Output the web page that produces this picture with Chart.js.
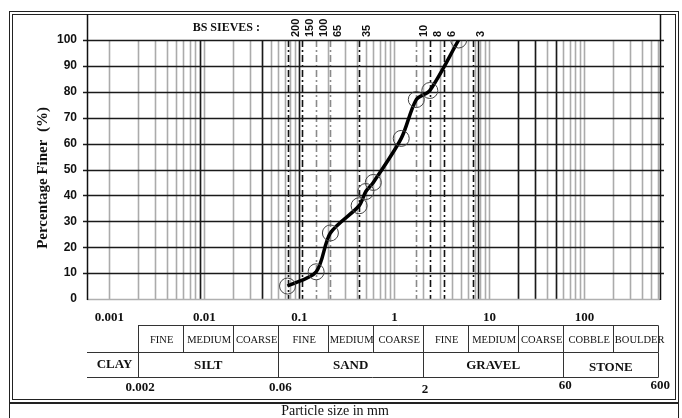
<!DOCTYPE html>
<html>
<head>
<meta charset="utf-8">
<script src="https://cdn.jsdelivr.net/npm/chart.js@4"></script>
<style>
  html, body { margin: 0; padding: 0; background: #fff; }
  #wrap { width: 682px; height: 418px; position: relative; }
</style>
</head>
<body>
<div id="wrap"><canvas id="grading-chart" width="682" height="418"></canvas></div>
<script>
// particle size distribution (mm, % finer)
const sizes = [0.075, 0.15, 0.212, 0.425, 0.5, 0.6, 1.18, 1.7, 2.36, 4.75];
const finer = [5, 10.5, 25.5, 36, 41.5, 45, 62, 77, 80.5, 100];

// BS sieves shown along the top
const sieveNames = ['200', '150', '100', '65', '35', '10', '8', '6', '3'];
const sieveSizes = [0.075, 0.106, 0.15, 0.212, 0.425, 1.7, 2.36, 3.35, 6.7];
const sieveDark = [true, true, false, false, true, false, true, true, true];

const yTicks = [0, 10, 20, 30, 40, 50, 60, 70, 80, 90, 100];
const decadeLabels = ['0.001', '0.01', '0.1', '1', '10', '100'];
const darkLines = [0.009, 0.04, 0.1, 7.5, 20, 30, 50];

// classification table
const subBounds = [0.002, 0.006, 0.02, 0.06, 0.2, 0.6, 2, 6, 20, 60, 200, 600];
const subNames = ['FINE', 'MEDIUM', 'COARSE', 'FINE', 'MEDIUM', 'COARSE', 'FINE', 'MEDIUM', 'COARSE', 'COBBLE', 'BOULDER'];
const mainBounds = [0.002, 0.06, 2, 60, 600];
const mainNames = ['SILT', 'SAND', 'GRAVEL', 'STONE'];
const boundLabels = ['0.002', '0.06', '2', '60', '600'];

const serif = '"Liberation Serif", "Times New Roman", serif';
const sans = '"Liberation Sans", Arial, sans-serif';

const gridPlugin = {
    id: 'grid',
    beforeDatasetsDraw(chart) {
        const ctx = chart.ctx;
        const xs = chart.scales.x, ys = chart.scales.y;
        const a = chart.chartArea;
        ctx.save();
        // grey minor lines at 1..9 x 10^k
        ctx.strokeStyle = '#ababab';
        ctx.lineWidth = 1.6;
        for (let k = -3; k <= 2; k++) {
            for (let n = 1; n <= 9; n++) {
                const v = n * Math.pow(10, k);
                const px = Math.round(xs.getPixelForValue(v)) + 0.5;
                if (px < a.left || px > a.right) continue;
                ctx.beginPath();
                ctx.moveTo(px, a.top);
                ctx.lineTo(px, a.bottom);
                ctx.stroke();
            }
        }
        // dark lines
        ctx.strokeStyle = '#1a1a1a';
        ctx.lineWidth = 1.5;
        darkLines.forEach(v => {
            const px = Math.round(xs.getPixelForValue(v)) + 0.5;
            ctx.beginPath();
            ctx.moveTo(px, a.top);
            ctx.lineTo(px, a.bottom);
            ctx.stroke();
        });
        // sieve lines
        ctx.setLineDash([7, 3, 2, 3]);
        sieveSizes.forEach((v, i) => {
            const px = Math.round(xs.getPixelForValue(v)) + 0.5;
            ctx.strokeStyle = sieveDark[i] ? '#111' : '#8a8a8a';
            ctx.lineWidth = 1.6;
            ctx.beginPath();
            ctx.moveTo(px, a.top);
            ctx.lineTo(px, a.bottom);
            ctx.stroke();
        });
        ctx.setLineDash([]);
        // horizontal lines
        yTicks.forEach(t => {
            const py = Math.round(ys.getPixelForValue(t)) + 0.5;
            ctx.strokeStyle = t === 0 ? '#b0b0b0' : '#1a1a1a';
            ctx.lineWidth = t === 0 ? 1.5 : 1.3;
            ctx.beginPath();
            ctx.moveTo(a.left - (t === 0 ? 0 : 4), py);
            ctx.lineTo(a.right + (t === 0 ? 0 : 4), py);
            ctx.stroke();
        });
        ctx.restore();
    },
    afterDraw(chart) {
        const ctx = chart.ctx;
        const xs = chart.scales.x, ys = chart.scales.y;
        const a = chart.chartArea;
        const X = v => xs.getPixelForValue(v);
        ctx.save();

        // outer double frame
        ctx.strokeStyle = '#222';
        ctx.lineWidth = 1;
        ctx.strokeRect(9.5, 11.5, 669, 391);
        ctx.strokeRect(12.5, 14.5, 663, 385);
        ctx.beginPath();
        ctx.moveTo(9.5, 403); ctx.lineTo(9.5, 418);
        ctx.moveTo(678.5, 403); ctx.lineTo(678.5, 418);
        ctx.stroke();

        // axis lines
        ctx.strokeStyle = '#111';
        ctx.lineWidth = 1.5;
        ctx.beginPath();
        ctx.moveTo(a.left + 0.5, 14); ctx.lineTo(a.left + 0.5, a.bottom + 1);
        ctx.moveTo(a.right + 0.5, 14); ctx.lineTo(a.right + 0.5, a.bottom + 1);
        ctx.stroke();

        // y ticks
        ctx.fillStyle = '#111';
        ctx.font = 'bold 12px ' + sans;
        ctx.textAlign = 'right';
        ctx.textBaseline = 'middle';
        yTicks.forEach(t => ctx.fillText(String(t), a.left - 10, ys.getPixelForValue(t)));

        // y title
        ctx.save();
        ctx.translate(43, 178);
        ctx.rotate(-Math.PI / 2);
        ctx.textAlign = 'center';
        ctx.font = 'bold 15px ' + serif;
        ctx.fillText('Percentage Finer  (%)', 0, 0);
        ctx.restore();

        // sieve header
        ctx.font = 'bold 12px ' + serif;
        ctx.textAlign = 'right';
        ctx.fillText('BS SIEVES :', 260, 28);
        ctx.font = 'bold 11px ' + sans;
        sieveNames.forEach((s, i) => {
            ctx.save();
            ctx.translate(X(sieveSizes[i]) + 8, 37);
            ctx.rotate(-Math.PI / 2);
            ctx.textAlign = 'left';
            ctx.textBaseline = 'middle';
            ctx.fillText(s, 0, 0);
            ctx.restore();
        });

        // decade labels
        ctx.font = 'bold 13px ' + serif;
        ctx.textAlign = 'center';
        decadeLabels.forEach(l => ctx.fillText(l, X(parseFloat(l)), 318));

        // table
        const r0 = 325.5, r1 = 352.5, r2 = 377.5;
        ctx.strokeStyle = '#333';
        ctx.lineWidth = 1;
        ctx.beginPath();
        ctx.moveTo(X(subBounds[0]), r0); ctx.lineTo(X(600), r0);
        ctx.moveTo(a.left, r1); ctx.lineTo(X(600), r1);
        ctx.moveTo(a.left, r2); ctx.lineTo(X(600), r2);
        subBounds.forEach(b => {
            const px = Math.round(X(b)) + 0.5;
            ctx.moveTo(px, r0); ctx.lineTo(px, r1);
        });
        mainBounds.forEach(b => {
            const px = Math.round(X(b)) + 0.5;
            ctx.moveTo(px, r1); ctx.lineTo(px, r2);
        });
        ctx.stroke();

        ctx.font = '10.5px ' + serif;
        ctx.textAlign = 'center';
        subNames.forEach((n, i) => {
            const cx = (X(subBounds[i]) + X(subBounds[i + 1])) / 2;
            ctx.fillText(n, cx + (i === 10 ? 4 : 1), 340);
        });
        ctx.font = 'bold 13px ' + serif;
        ctx.fillText('CLAY', (a.left + X(0.002)) / 2 + 2, 365);
        mainNames.forEach((n, i) => {
            const cx = (X(mainBounds[i]) + X(mainBounds[i + 1])) / 2;
            ctx.fillText(n, cx, i === 3 ? 368 : 366);
        });
        boundLabels.forEach((l, i) => ctx.fillText(l, X(parseFloat(l)) + 2, i === 2 ? 390 : (i > 2 ? 386 : 388)));

        // bottom caption
        ctx.beginPath();
        ctx.strokeStyle = '#222';
        ctx.lineWidth = 2;
        ctx.moveTo(9, 403); ctx.lineTo(679, 403);
        ctx.stroke();
        ctx.font = '14px ' + serif;
        ctx.fillText('Particle size in mm', 335, 411);
        ctx.restore();
    }
};

new Chart(document.getElementById('grading-chart'), {
    type: 'line',
    data: {
        datasets: [{
            data: sizes.map((s, i) => ({ x: s, y: finer[i] })),
            borderColor: '#000',
            borderWidth: 3.5,
            tension: 0.3,
            pointRadius: 8,
            pointBorderWidth: 1,
            pointBorderColor: '#444',
            pointBackgroundColor: 'rgba(0,0,0,0)',
            fill: false
        }]
    },
    options: {
        responsive: false,
        animation: false,
        events: [],
        layout: { padding: { left: 87, right: 22, top: 40, bottom: 119 } },
        scales: {
            x: { type: 'logarithmic', min: 0.000581, max: 625, display: false },
            y: { min: 0, max: 100, display: false }
        },
        plugins: {
            legend: { display: false },
            tooltip: { enabled: false }
        }
    },
    plugins: [gridPlugin]
});
</script>
</body>
</html>
